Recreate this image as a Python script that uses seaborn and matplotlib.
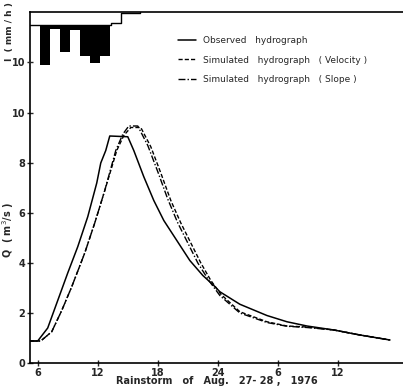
import pandas as pd
import matplotlib
matplotlib.use("Agg")
import matplotlib.pyplot as plt
import seaborn as sns

# hours after 6 h on Aug. 27
obs_t = [-0.8, 0.0, 1.0, 2.0, 3.0, 4.0, 5.0, 5.9, 6.3, 6.8, 7.2, 9.0, 9.6, 10.6, 11.6, 12.6,
         13.9, 15.2, 16.5, 17.6, 18.2, 20.2, 22.9, 24.9, 26.9, 29.6, 32.2, 35.2]
obs_q = [0.88, 0.88, 1.4, 2.5, 3.6, 4.65, 5.85, 7.2, 8.0, 8.5, 9.08, 9.05, 8.5, 7.45, 6.5, 5.7,
         4.9, 4.1, 3.5, 3.1, 2.85, 2.35, 1.9, 1.65, 1.48, 1.32, 1.12, 0.92]

vel_t = [-0.8, 0.3, 1.4, 2.4, 3.4, 4.7, 5.7, 6.7, 7.9, 8.6, 9.3, 10.3, 11.3, 12.3, 13.3, 14.3,
         15.3, 16.3, 17.3, 18.3, 20.2, 22.9, 24.9, 26.9, 29.6, 32.2, 35.2]
vel_q = [0.88, 0.88, 1.25, 2.1, 3.05, 4.4, 5.6, 6.9, 8.5, 9.1, 9.42, 9.42, 8.65, 7.6, 6.5, 5.6,
         4.8, 4.0, 3.3, 2.75, 2.05, 1.65, 1.48, 1.44, 1.32, 1.12, 0.92]

slope_t = [-0.8, 0.3, 1.4, 2.4, 3.4, 4.7, 5.7, 6.7, 7.8, 8.5, 9.1, 10.0, 11.0, 12.0, 13.0, 14.0,
           15.0, 16.0, 17.1, 18.2, 20.2, 22.9, 24.9, 26.9, 29.6, 32.2, 35.2]
slope_q = [0.88, 0.88, 1.25, 2.1, 3.05, 4.4, 5.6, 6.9, 8.5, 9.15, 9.48, 9.48, 8.7, 7.65, 6.55, 5.6,
           4.8, 4.0, 3.3, 2.7, 2.0, 1.62, 1.47, 1.42, 1.32, 1.12, 0.92]

# rainfall intensity (mm/h), hourly blocks
rain_t = [0.2, 1.2, 2.2, 3.2, 4.2, 5.2, 6.2]
rain_i = [10.6, 3.4, 8.0, 3.6, 8.8, 10.2, 8.8]
loss_t = [-0.77, 7.3, 8.3, 10.2]
loss_i = [2.6, 2.1, 0.2, 0.0]

xtick_pos = [0, 6, 12, 18, 24, 30]
xtick_lab = ["6", "12", "18", "24", "6", "12"]

sns.set_style("ticks")
plt.rcParams["font.family"] = ["DejaVu Sans"]

fig = plt.figure(figsize=(4.03, 3.89), dpi=100)
ax = fig.add_axes([30 / 403, 26 / 389, 373 / 403, 351 / 389])

sns.lineplot(x=obs_t, y=obs_q, ax=ax, color="black", lw=1.1, label="Observed   hydrograph")
sns.lineplot(x=vel_t, y=vel_q, ax=ax, color="black", lw=1.0, linestyle=(0, (3, 1.5)),
             label="Simulated   hydrograph   ( Velocity )")
sns.lineplot(x=slope_t, y=slope_q, ax=ax, color="black", lw=1.0, linestyle=(0, (5, 1.5, 1, 1.5)),
             label="Simulated   hydrograph   ( Slope )")

ax.set_xlim(-0.77, 36.5)
ax.set_ylim(0, 14.04)
ax.set_xticks(xtick_pos)
ax.set_xticklabels(xtick_lab)
ax.set_yticks([0, 2, 4, 6, 8, 10])
ax.tick_params(direction="inout", length=4, width=1, labelsize=7, pad=1.5)
for lab in ax.get_xticklabels() + ax.get_yticklabels():
    lab.set_fontweight("bold")
ax.set_xlabel("Rainstorm   of   Aug.   27- 28 ,   1976", fontsize=7, fontweight="bold", labelpad=-1)
ax.set_ylabel("Q  ( m$^3$/s )", fontsize=7, fontweight="bold")
ax.yaxis.set_label_coords(-14 / 373, (363 - 230) / 351)
ax.spines["right"].set_visible(False)
for s in ["left", "bottom", "top"]:
    ax.spines[s].set_linewidth(1.2)
    ax.spines[s].set_color("black")

leg = ax.legend(loc="upper left", bbox_to_anchor=(170 / 403, 1 - 28 / 389), bbox_transform=fig.transFigure,
                frameon=False, fontsize=6.5, handlelength=2.0, labelspacing=1.15, handletextpad=0.8)

# hyetograph on an inverted twin axis
ax2 = ax.twinx()
ax2.set_ylim(70.2, 0)
ax2.bar(rain_t, [v - loss_i[0] for v in rain_i], bottom=loss_i[0], width=1.0, align="edge",
        color="black", edgecolor="black", lw=0)
ax2.step(loss_t, loss_i, where="post", color="black", lw=1.0)
ax2.yaxis.tick_left()
ax2.yaxis.set_label_position("left")
ax2.set_yticks([10])
ax2.tick_params(direction="inout", length=4, width=1, labelsize=7, pad=1.5)
for lab in ax2.get_yticklabels():
    lab.set_fontweight("bold")
ax2.set_ylabel("I  ( mm / h )", fontsize=6.5, fontweight="bold")
ax2.yaxis.set_label_coords(-16 / 373, (363 - 32) / 351)
for s in ax2.spines.values():
    s.set_visible(False)

fig.savefig("out.png", dpi=100)
